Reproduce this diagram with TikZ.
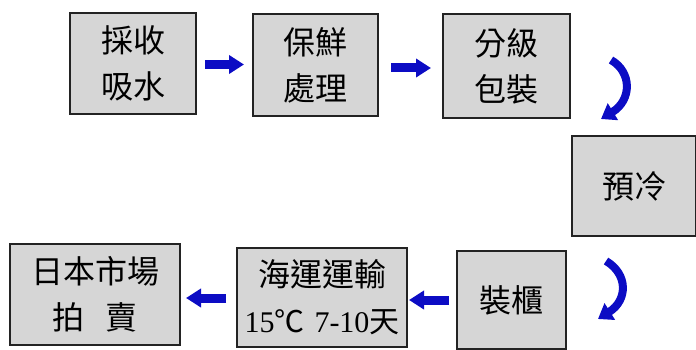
\documentclass[tikz,border=0pt]{standalone}
\usepackage{fontspec}
\setmainfont{Liberation Serif}
\newfontfamily\cjk{Noto Sans CJK TC}
\newfontfamily\lat{Liberation Serif}
\usetikzlibrary{arrows.meta}
\definecolor{boxgray}{RGB}{214,214,214}
\definecolor{boxline}{RGB}{35,35,35}
\definecolor{arrblue}{RGB}{12,12,196}
\tikzset{
  stagebox/.style={draw=boxline, line width=2pt, fill=boxgray, inner sep=0pt,
    align=center, font=\fontsize{32pt}{46pt}\selectfont\cjk},
  flowarr/.style={draw=arrblue, line width=9pt, -{Triangle[length=15pt,width=18pt]}},
  turnarr/.style={draw=arrblue, line width=8pt, -{Triangle[length=14pt,width=19pt]}}
}
\begin{document}
\begin{tikzpicture}[x=1pt,y=-1pt]
\useasboundingbox (0,0) rectangle (696,350);
\node[stagebox, minimum width=126pt, minimum height=101pt] (b1) at (133,63.5) {採收\\吸水};
\node[stagebox, minimum width=125pt, minimum height=102pt] (b2) at (315.5,65) {保鮮\\處理};
\node[stagebox, minimum width=127pt, minimum height=104pt] (b3) at (506.5,66) {分級\\包裝};
\node[stagebox, minimum width=124pt, minimum height=100pt] (b4) at (634,186) {預冷};
\node[stagebox, minimum width=109pt, minimum height=98pt] (b5) at (511.5,300) {裝櫃};
\node[stagebox, minimum width=170pt, minimum height=99pt] (b6) at (322,297.5) {海運運輸\\{\fontsize{30pt}{46pt}\selectfont{\lat 15}℃\hspace{10pt}{\lat 7-10}天}};
\node[stagebox, minimum width=170pt, minimum height=101pt] (b7) at (95,294.5) {日本市場\\拍\hspace{22pt}賣};
\draw[flowarr, shorten <=8pt, shorten >=8pt] (b1.east |- 0,64.5) -- (b2.west |- 0,64.5);
\draw[flowarr, shorten <=12pt, shorten >=11pt] (b2.east |- 0,68) -- (b3.west |- 0,68);
\draw[flowarr, shorten <=7pt, shorten >=1pt] (b5.west |- 0,300) -- (b6.east |- 0,300);
\draw[flowarr, shorten <=10pt, shorten >=5pt] (b6.west |- 0,298) -- (b7.east |- 0,298);
\coordinate (t1s) at (611,60);
\coordinate (t1e) at (601,119);
\coordinate (t2s) at (606,261);
\coordinate (t2e) at (598,319);
\draw[turnarr] (t1s) .. controls (632,72) and (632,100) .. (t1e);
\draw[turnarr] (t2s) .. controls (628,274) and (628,300) .. (t2e);
\end{tikzpicture}
\end{document}
